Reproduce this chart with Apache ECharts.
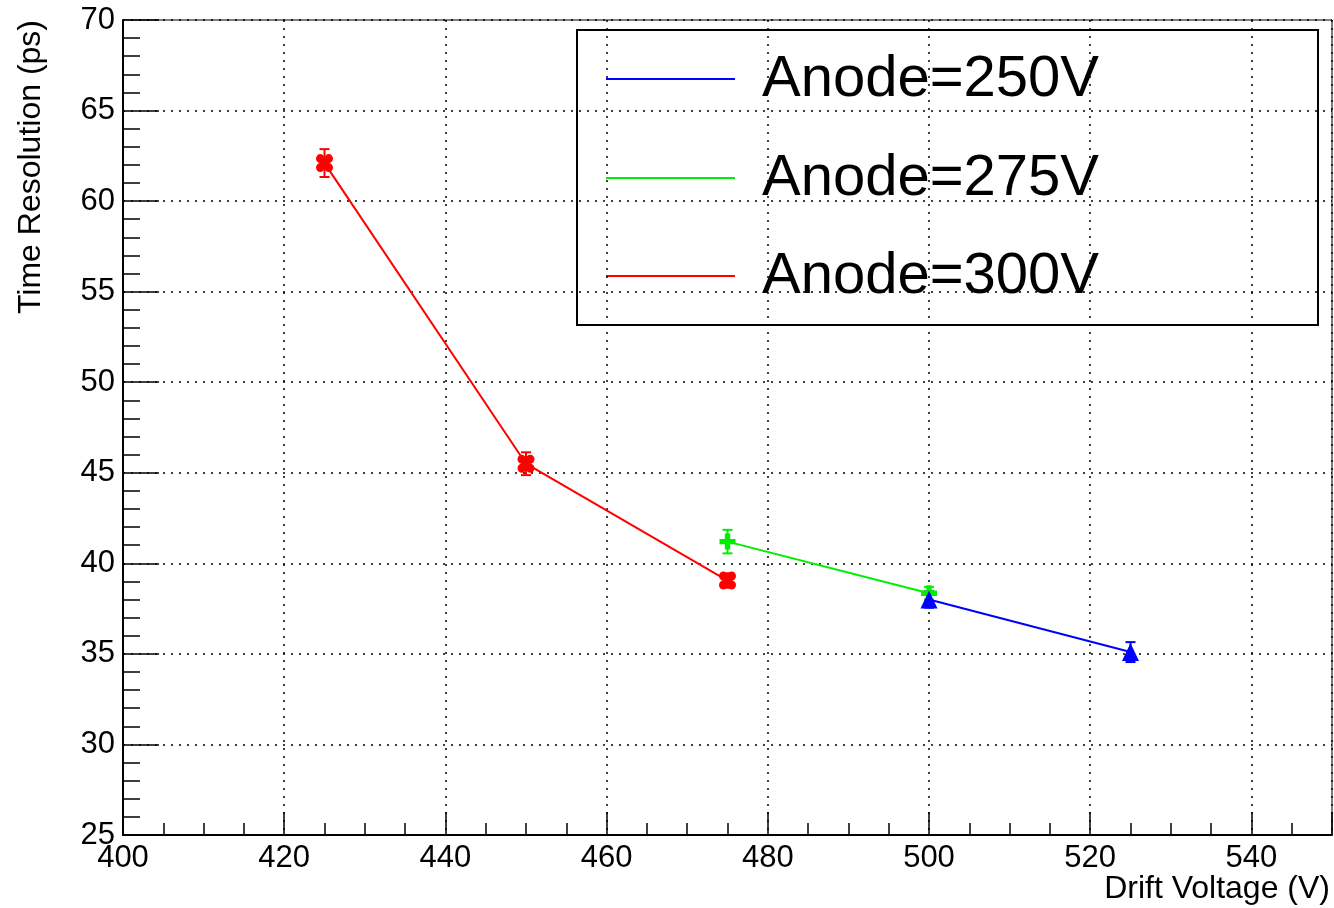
<!DOCTYPE html>
<html>
<head>
<meta charset="utf-8">
<script src="https://cdn.jsdelivr.net/npm/echarts@6/dist/echarts.min.js"></script>
<style>
html,body{margin:0;padding:0;background:#fff;}
#chart{width:1334px;height:908px;}
</style>
</head>
<body>
<div id="chart"></div>
<script>
// ---- data ----
const seriesNames = ['Anode=250V', 'Anode=275V', 'Anode=300V'];
const drift250 = [500, 525];
const res250 = [38.0, 35.1];
const err250 = [0.45, 0.55];
const drift275 = [475, 500];
const res275 = [41.2, 38.35];
const err275 = [0.65, 0.35];
const drift300 = [425, 450, 475];
const res300 = [62.1, 45.5, 39.05];
const err300 = [0.77, 0.63, 0.4];
const xTickLabels = [400, 420, 440, 460, 480, 500, 520, 540];
const yTickLabels = [25, 30, 35, 40, 45, 50, 55, 60, 65, 70];
const xTitle = 'Drift Voltage (V)';
const yTitle = 'Time Resolution (ps)';

const FONT = '"Liberation Sans", Arial, Helvetica, sans-serif';
const colors = {'Anode=250V': '#0000ff', 'Anode=275V': '#00ee00', 'Anode=300V': '#ff0000'};

function pts(xs, ys, es) { return xs.map((x, i) => [x, ys[i], es[i]]); }

const redSym = 'path://M3.5,0 A3.5,3.5 0 1 1 3.49,0 Z M10.5,0 A3.5,3.5 0 1 1 10.49,0 Z M3.5,7 A3.5,3.5 0 1 1 3.49,7 Z M10.5,7 A3.5,3.5 0 1 1 10.49,7 Z M4,4 H10 V10 H4 Z';
const plusSym = 'path://M4,0 H8 V4 H12 V8 H8 V12 H4 V8 H0 V4 H4 Z';

function errSeries(name, data) {
  const c = colors[name];
  return {
    type: 'custom',
    name: name + ' err',
    data: data,
    encode: {x: 0, y: 1},
    z: 3,
    silent: true,
    renderItem: function (params, api) {
      const x = api.value(0), y = api.value(1), e = api.value(2);
      const top = api.coord([x, y + e]);
      const bot = api.coord([x, y - e]);
      const cw = 5;
      const st = {stroke: c, lineWidth: 2};
      return {
        type: 'group',
        children: [
          {type: 'line', shape: {x1: top[0], y1: top[1], x2: bot[0], y2: bot[1]}, style: st},
          {type: 'line', shape: {x1: top[0] - cw, y1: top[1], x2: top[0] + cw, y2: top[1]}, style: st},
          {type: 'line', shape: {x1: bot[0] - cw, y1: bot[1], x2: bot[0] + cw, y2: bot[1]}, style: st}
        ]
      };
    }
  };
}

function lineSeries(name, data, symbol, size, z) {
  const c = colors[name];
  return {
    type: 'line',
    name: name,
    data: data.map(d => [d[0], d[1]]),
    symbol: symbol,
    symbolSize: size,
    showAllSymbol: true,
    lineStyle: {color: c, width: 2},
    itemStyle: {color: c},
    z: z,
    animation: false
  };
}

const d250 = pts(drift250, res250, err250);
const d275 = pts(drift275, res275, err275);
const d300 = pts(drift300, res300, err300);

const chart = echarts.init(document.getElementById('chart'), null, {renderer: 'canvas'});

const legendTop = 30, legendLeft = 577, legendW = 741, legendH = 295;
const legendRows = [79, 178, 276];
const legendChildren = [{
  type: 'rect',
  shape: {x: legendLeft, y: legendTop, width: legendW, height: legendH},
  style: {fill: '#fff', stroke: '#000', lineWidth: 2}
}];
seriesNames.forEach((n, i) => {
  legendChildren.push({
    type: 'line',
    shape: {x1: 606, y1: legendRows[i], x2: 735, y2: legendRows[i]},
    style: {stroke: colors[n], lineWidth: 2}
  });
  legendChildren.push({
    type: 'text',
    x: 762, y: legendRows[i] + 1,
    style: {text: n, fill: '#000', font: '58px ' + FONT, align: 'left', verticalAlign: 'middle'}
  });
});

const option = {
  backgroundColor: '#fff',
  animation: false,
  grid: {
    left: 123, top: 20, right: 2, bottom: 73,
    show: true, borderColor: '#000', borderWidth: 1,
    outerBoundsMode: 'none'
  },
  xAxis: [{
    type: 'value', min: 400, max: 550, interval: 20, position: 'bottom',
    axisLine: {show: true, onZero: false, lineStyle: {color: '#000', width: 2}},
    axisTick: {show: true, inside: true, length: 23, lineStyle: {color: '#000', width: 1.5}},
    axisLabel: {
      show: true, margin: 8, color: '#000', fontSize: 31, fontFamily: FONT,
      formatter: v => xTickLabels.indexOf(v) >= 0 ? String(v) : ''
    },
    splitLine: {show: true, lineStyle: {color: '#000', width: 1.5, type: [2, 6]}}
  }, {
    type: 'value', min: 400, max: 550, interval: 5, position: 'bottom',
    axisLine: {show: false},
    axisTick: {show: true, inside: true, length: 12, lineStyle: {color: '#000', width: 1.5}},
    axisLabel: {show: false},
    splitLine: {show: false}
  }],
  yAxis: {
    type: 'value', min: 25, max: 70, interval: 5,
    axisLine: {show: true, onZero: false, lineStyle: {color: '#000', width: 2}},
    axisTick: {show: true, inside: true, length: 36, lineStyle: {color: '#000', width: 1.5}},
    minorTick: {show: true, splitNumber: 5, length: 17, lineStyle: {color: '#000', width: 1.5}},
    axisLabel: {
      show: true, margin: 8, color: '#000', fontSize: 31, fontFamily: FONT,
      formatter: v => yTickLabels.indexOf(v) >= 0 ? String(v) : ''
    },
    splitLine: {show: true, lineStyle: {color: '#000', width: 1.5, type: [2, 6]}}
  },
  series: [
    lineSeries('Anode=300V', d300, redSym, [17, 18], 4),
    errSeries('Anode=300V', d300),
    lineSeries('Anode=275V', d275, plusSym, 16, 5),
    errSeries('Anode=275V', d275),
    lineSeries('Anode=250V', d250, 'triangle', [17, 18], 6),
    errSeries('Anode=250V', d250)
  ],
  graphic: [
    {
      type: 'text', x: 1330, y: 889, z: 10,
      style: {text: xTitle, fill: '#000', font: '32px ' + FONT, align: 'right', verticalAlign: 'middle'}
    },
    {
      type: 'text', x: 31, y: 20, rotation: Math.PI / 2, z: 10,
      style: {text: yTitle, fill: '#000', font: '32px ' + FONT, align: 'right', verticalAlign: 'middle'}
    },
    {type: 'group', z: 20, children: legendChildren}
  ]
};
chart.setOption(option);
</script>
</body>
</html>
